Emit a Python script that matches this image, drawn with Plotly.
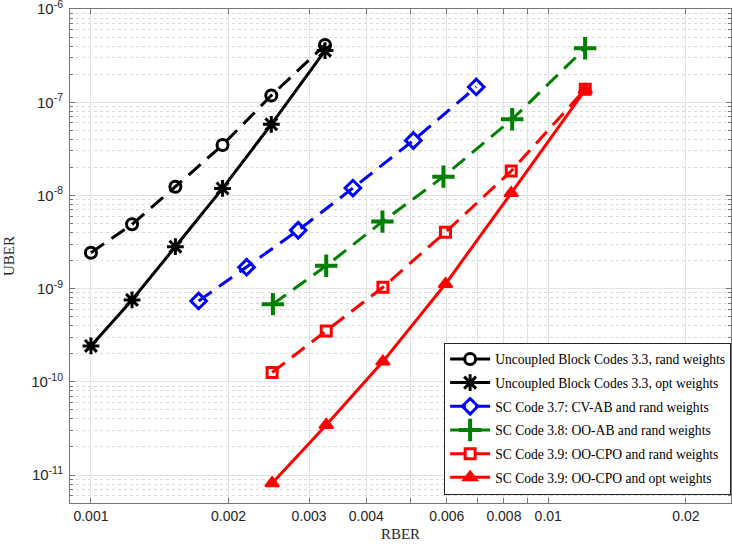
import numpy as np
import plotly.graph_objects as go

# ---- data ----
rber_uncoupled = [0.001, 0.00123, 0.00153, 0.00194, 0.00248, 0.00325]
uber_unc_rand = [2.43e-9, 4.9e-9, 1.24e-8, 3.48e-8, 1.18e-7, 4.12e-7]
uber_unc_opt = [2.43e-10, 7.57e-10, 2.82e-9, 1.19e-8, 5.8e-8, 3.58e-7]

rber_cvab = [0.00172, 0.00219, 0.00284, 0.00374, 0.00507, 0.00696]
uber_cvab = [7.38e-10, 1.70e-9, 4.23e-9, 1.20e-8, 3.89e-8, 1.46e-7]

rber_ooab = [0.00250, 0.00327, 0.00434, 0.0059, 0.00834, 0.01204]
uber_ooab = [6.82e-10, 1.76e-9, 5.24e-9, 1.59e-8, 6.57e-8, 3.80e-7]

rber_oocpo = [0.00249, 0.00327, 0.00435, 0.00596, 0.0083, 0.01205]
uber_oocpo_rand = [1.26e-10, 3.52e-10, 1.035e-9, 4.03e-9, 1.83e-8, 1.38e-7]
uber_oocpo_opt = [8.17e-12, 3.45e-11, 1.65e-10, 1.12e-9, 1.06e-8, 1.36e-7]

names = [
    "Uncoupled Block Codes 3.3, rand weights",
    "Uncoupled Block Codes 3.3, opt weights",
    "SC Code 3.7: CV-AB and rand weights",
    "SC Code 3.8: OO-AB and rand weights",
    "SC Code 3.9: OO-CPO and rand weights",
    "SC Code 3.9: OO-CPO and opt weights",
]

x_tickvals = [0.001, 0.002, 0.003, 0.004, 0.005, 0.006, 0.007, 0.008, 0.009, 0.01, 0.02]
x_ticktext = ["0.001", "0.002", "0.003", "0.004", "", "0.006", "", "0.008", "", "0.01", "0.02"]
y_tickvals = [1e-11, 1e-10, 1e-9, 1e-8, 1e-7, 1e-6]
y_ticktext = ["10<sup>-11</sup>", "10<sup>-10</sup>", "10<sup>-9</sup>",
              "10<sup>-8</sup>", "10<sup>-7</sup>", "10<sup>-6</sup>"]

DASH = "16px,9px"
series = [
    (rber_uncoupled, uber_unc_rand, names[0], "black", DASH, "circle-open", 11, 3),
    (rber_uncoupled, uber_unc_opt, names[1], "black", "solid", "asterisk-open", 14, 3),
    (rber_cvab, uber_cvab, names[2], "#0000ff", DASH, "diamond-open", 12, 3),
    (rber_ooab, uber_ooab, names[3], "#008000", DASH, "cross-thin-open", 16, 4),
    (rber_oocpo, uber_oocpo_rand, names[4], "#ff0000", DASH, "square-open", 10, 3),
    (rber_oocpo, uber_oocpo_opt, names[5], "#ff0000", "solid", "triangle-up", 12, 2),
]

fig = go.Figure()
for i, (xs, ys, nm, col, dash, sym, sz, mlw) in enumerate(series):
    fig.add_trace(go.Scatter(
        x=xs, y=ys, name=nm, mode="lines+markers", legendgroup=f"g{i}",
        line=dict(color=col, width=3, dash=dash),
        marker=dict(symbol=sym, size=sz, color=col, line=dict(color=col, width=mlw)),
    ))

y_minor = [k * 10.0 ** n for n in range(-12, -6) for k in range(2, 10)]

fig.update_layout(
    width=732, height=547,
    margin=dict(l=70, r=1, t=9, b=44),
    paper_bgcolor="white", plot_bgcolor="white",
    font=dict(family="Liberation Sans, Arial, sans-serif", size=14, color="#262626"),
    showlegend=True,
    legend=dict(
        x=0.566, y=0.017, xanchor="left", yanchor="bottom",
        bgcolor="white", bordercolor="#262626", borderwidth=1,
        font=dict(family="Liberation Serif, Times New Roman, serif", size=13.6, color="#000"),
        traceorder="grouped", tracegroupgap=3, itemwidth=40,
    ),
)
fig.update_xaxes(
    type="log", range=[np.log10(0.0009), np.log10(0.0251)], automargin=False,
    tickvals=x_tickvals, ticktext=x_ticktext,
    ticks="inside", ticklen=5, tickcolor="#777",
    showline=True, linecolor="#777", linewidth=1, mirror="ticks",
    showgrid=True, gridcolor="#e3e3e3", gridwidth=1, zeroline=False,
    tickfont=dict(size=14, color="#262626"),
    title=dict(text="RBER", standoff=5,
               font=dict(family="Liberation Serif, Times New Roman, serif", size=15, color="#262626")),
)
fig.update_yaxes(
    type="log", range=[-11.3, -5.9995], automargin=False,
    tickvals=y_tickvals, ticktext=y_ticktext, ticklabeloverflow="allow",
    ticks="inside", ticklen=5, tickcolor="#777", ticklabelstandoff=3,
    showline=True, linecolor="#777", linewidth=1, mirror="ticks",
    showgrid=True, gridcolor="#e3e3e3", gridwidth=1, zeroline=False,
    tickfont=dict(size=15, color="#262626"),
    minor=dict(tickvals=y_minor, ticks="inside", ticklen=3, tickcolor="#777",
               showgrid=True, gridcolor="#d9d9d9", griddash="dot", gridwidth=1),
    title=dict(text="UBER", standoff=12,
               font=dict(family="Liberation Serif, Times New Roman, serif", size=15, color="#262626")),
)

fig.write_html("out.html", config={"displayModeBar": False},
               post_script="document.body.style.margin='0';document.body.style.overflow='hidden';")
